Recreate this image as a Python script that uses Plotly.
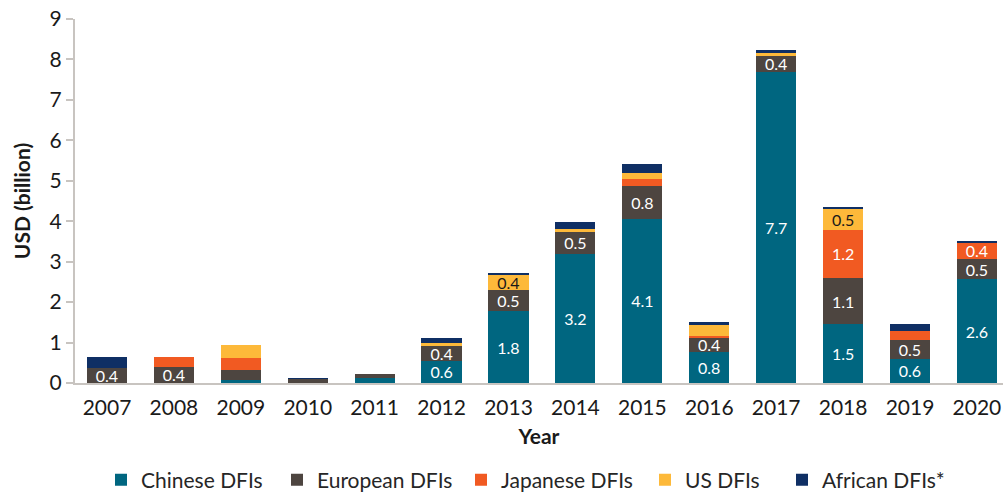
import plotly.graph_objects as go

years = ["2007", "2008", "2009", "2010", "2011", "2012", "2013", "2014",
         "2015", "2016", "2017", "2018", "2019", "2020"]
chinese = [0, 0, 0.08, 0, 0.12, 0.55, 1.78, 3.2, 4.06, 0.76, 7.7, 1.46, 0.6, 2.56]
european = [0.38, 0.4, 0.23, 0.1, 0.11, 0.36, 0.53, 0.54, 0.82, 0.37, 0.39, 1.13, 0.47, 0.51]
japanese = [0, 0.24, 0.3, 0, 0, 0, 0, 0, 0.17, 0.02, 0, 1.2, 0.21, 0.39]
us = [0, 0, 0.34, 0, 0, 0.09, 0.37, 0.07, 0.14, 0.29, 0.08, 0.52, 0, 0]
african = [0.26, 0, 0, 0.02, 0, 0.12, 0.03, 0.16, 0.23, 0.06, 0.06, 0.03, 0.18, 0.06]

series = [
    ("Chinese DFIs", chinese, "#006680", "white"),
    ("European DFIs", european, "#4D4540", "white"),
    ("Japanese DFIs", japanese, "#F15A22", "white"),
    ("US DFIs", us, "#FDB93A", "#1a1a1a"),
    ("African DFIs*", african, "#0F2F64", "white"),
]

FONT = "Lato, 'Open Sans', sans-serif"
fig = go.Figure()
legend_names = ["legend", "legend2", "legend3", "legend4", "legend5"]
sym_centers = [126, 302, 486, 670, 807]  # legend symbol centres (page px)

for i, (name, vals, color, tcolor) in enumerate(series):
    labels = [f"{v:.1f}" if v >= 0.35 else "" for v in vals]
    fig.add_trace(go.Bar(
        name=name, x=years, y=vals, marker_color=color,
        marker_line_width=0,
        text=labels, textposition="inside", insidetextanchor="middle",
        textangle=0, constraintext="none",
        textfont=dict(family=FONT, size=16, color=tcolor),
        legend=legend_names[i], hoverinfo="x+y+name",
    ))

W, H = 1006, 494
PLOT_L, PLOT_R, PLOT_T, PLOT_B = 75, 1003, 19, 383   # page pixels of the plot area
L, R, T, B = PLOT_L, W - PLOT_R, PLOT_T, H - PLOT_B
pw = W - L - R
ph = H - T - B
layout_legends = {}
for i, ln in enumerate(legend_names):
    p = sym_centers[i] - 25
    layout_legends[ln] = dict(
        x=(p - PLOT_L) / pw, xanchor="left", y=(PLOT_B - 480) / ph, yanchor="middle",
        orientation="h", font=dict(family=FONT, size=21, color="#262626"),
        bgcolor="rgba(0,0,0,0)", borderwidth=0, itemclick=False,
    )

fig.update_layout(
    width=W, height=H,
    margin=dict(l=L, r=R, t=T, b=B, autoexpand=False),
    barmode="stack", bargap=0.4,
    plot_bgcolor="white", paper_bgcolor="white",
    font=dict(family=FONT, color="#1a1a1a"),
    uniformtext=dict(mode=False),
    showlegend=True,
    **layout_legends,
    xaxis=dict(
        range=[-0.478, 13.39], showgrid=False, showline=True, automargin=False,
        linecolor="#C8C4C0", linewidth=2, ticks="", ticklabelstandoff=5,
        ticklabeloverflow="allow",
        tickfont=dict(family=FONT, size=21, color="#1a1a1a"),
        title=dict(text="<b>Year</b>", font=dict(family=FONT, size=21, color="#1a1a1a"),
                   standoff=11),
    ),
    yaxis=dict(
        range=[0, 9], dtick=1, showgrid=False, showline=True, automargin=False,
        linecolor="#C8C4C0", linewidth=2, ticks="outside", ticklen=7,
        tickcolor="#C8C4C0", tickwidth=1.5, ticklabeloverflow="allow",
        tickfont=dict(family=FONT, size=21, color="#1a1a1a"),
        title=dict(text="<b>USD (billion)</b>", font=dict(family=FONT, size=21, color="#1a1a1a"),
                   standoff=13),
        zeroline=False,
    ),
)

# remove the browser's default 8px body margin so the 1006x494 figure fills the window exactly
fig.write_html("out.html", config={"displayModeBar": False},
               post_script="document.body.style.margin='0';")
